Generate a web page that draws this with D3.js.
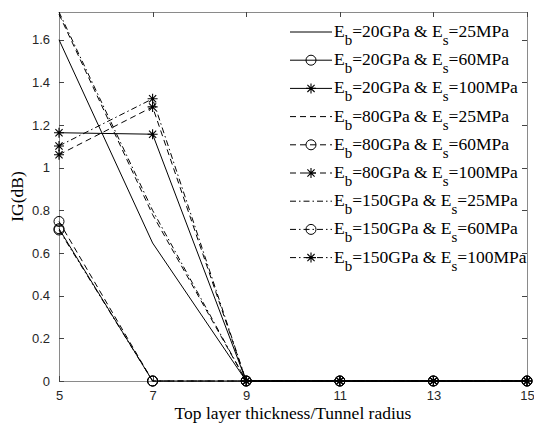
<!DOCTYPE html>
<html>
<head>
<meta charset="utf-8">
<script src="https://cdn.jsdelivr.net/npm/d3@7"></script>
<style>
  body { margin: 0; background: #fff; }
  svg { display: block; }
</style>
</head>
<body>
<svg id="chart"></svg>
<script>
const xValues = [5, 7, 9, 11, 13, 15];
const yTicks = [0, 0.2, 0.4, 0.6, 0.8, 1, 1.2, 1.4, 1.6];

const eb = ["20", "20", "20", "80", "80", "80", "150", "150", "150"];
const es = ["25", "60", "100", "25", "60", "100", "25", "60", "100"];
const styles = ["solid", "solid", "solid", "dash", "dash", "dash", "dashdot", "dashdot", "dashdot"];
const markers = ["none", "circle", "star", "none", "circle", "star", "none", "circle", "star"];

const s1 = [1.60, 0.647, 0, 0, 0, 0];
const s2 = [0.714, 0, 0, 0, 0, 0];
const s3 = [1.164, 1.157, 0, 0, 0, 0];
const s4 = [1.72, 0.78, 0, 0, 0, 0];
const s5 = [0.748, 0, 0, 0, 0, 0];
const s6 = [1.061, 1.285, 0, 0, 0, 0];
const s7 = [1.73, 0.80, 0, 0, 0, 0];
const s8 = [0.708, 0, 0, 0, 0, 0];
const s9 = [1.102, 1.323, 0, 0, 0, 0];
const seriesValues = [s1, s2, s3, s4, s5, s6, s7, s8, s9];

const W = 534, H = 428;
const margin = { top: 12, right: 7, bottom: 47, left: 59 };
const width = W - margin.left - margin.right;
const height = H - margin.top - margin.bottom;

const svg = d3.select("#chart").attr("width", W).attr("height", H);
const g = svg.append("g").attr("transform", `translate(${margin.left},${margin.top})`);

const x = d3.scaleLinear().domain([5, 15]).range([0, width]);
const y = d3.scaleLinear().domain([0, 1.73]).range([height, 0]);

const dashes = { solid: null, dash: "6,4", dashdot: "6,3,1.5,3" };
const axisColor = "#8a8a8a";
const tickFont = "Liberation Sans, Arial, sans-serif";
const serif = "Liberation Serif, Times New Roman, serif";

// box
g.append("rect").attr("width", width).attr("height", height)
  .attr("fill", "none").attr("stroke", axisColor).attr("stroke-width", 1)
  .attr("shape-rendering", "crispEdges");

function styleAxis(sel, showText) {
  sel.select(".domain").remove();
  sel.selectAll(".tick line").attr("stroke", "#444").attr("shape-rendering", "crispEdges");
  sel.selectAll(".tick text").attr("fill", "#262626")
    .style("font-family", tickFont).style("font-size", "13px");
  if (!showText) sel.selectAll(".tick text").remove();
}

g.append("g").attr("transform", `translate(0,${height})`)
  .call(d3.axisBottom(x).tickValues(xValues).tickSizeInner(-5).tickSizeOuter(0).tickPadding(10))
  .call(s => styleAxis(s, true));
g.append("g")
  .call(d3.axisTop(x).tickValues(xValues).tickSizeInner(-5).tickSizeOuter(0))
  .call(s => styleAxis(s, false));
g.append("g")
  .call(d3.axisLeft(y).tickValues(yTicks).tickFormat(d3.format("~g")).tickSizeInner(-5).tickSizeOuter(0).tickPadding(9))
  .call(s => styleAxis(s, true));
g.append("g").attr("transform", `translate(${width},0)`)
  .call(d3.axisRight(y).tickValues(yTicks).tickSizeInner(-5).tickSizeOuter(0))
  .call(s => styleAxis(s, false));

// lines
const line = d3.line().x(d => x(d.x)).y(d => y(d.y));

function drawMarker(sel, type, cx, cy) {
  if (type === "circle") {
    sel.append("circle").attr("cx", cx).attr("cy", cy).attr("r", 5)
      .attr("fill", "none").attr("stroke", "#000").attr("stroke-width", 1);
  } else if (type === "star") {
    const r = 5, d = 3.6;
    const p = `M${cx - r},${cy}L${cx + r},${cy}M${cx},${cy - r}L${cx},${cy + r}` +
      `M${cx - d},${cy - d}L${cx + d},${cy + d}M${cx - d},${cy + d}L${cx + d},${cy - d}`;
    sel.append("path").attr("d", p).attr("stroke", "#000").attr("stroke-width", 1.1).attr("fill", "none");
  }
}

seriesValues.forEach((vals, i) => {
  const pts = vals.map((v, j) => ({ x: xValues[j], y: v }));
  g.append("path").datum(pts).attr("d", line)
    .attr("fill", "none").attr("stroke", "#000").attr("stroke-width", 1)
    .attr("stroke-dasharray", dashes[styles[i]]);
  const mg = g.append("g");
  pts.forEach(p => drawMarker(mg, markers[i], x(p.x), y(p.y)));
});

// legend
const legend = svg.append("g");
const lx0 = 290, lx1 = 332, ly0 = 32, lstep = 28.2;
eb.forEach((b, i) => {
  const yy = ly0 + i * lstep;
  legend.append("line").attr("x1", lx0).attr("x2", lx1).attr("y1", yy).attr("y2", yy)
    .attr("stroke", "#000").attr("stroke-width", 1)
    .attr("stroke-dasharray", dashes[styles[i]]);
  drawMarker(legend, markers[i], (lx0 + lx1) / 2, yy);
  const t = legend.append("text").attr("x", lx1 + 2).attr("y", yy + 5)
    .style("font-family", serif).style("font-size", "17.5px").attr("fill", "#000");
  t.append("tspan").text("E");
  t.append("tspan").attr("dy", 8).style("font-size", "15px").text("b");
  t.append("tspan").attr("dy", -8).text(`=${b}GPa & E`);
  t.append("tspan").attr("dy", 8).style("font-size", "15px").text("s");
  t.append("tspan").attr("dy", -8).text(`=${es[i]}MPa`);
});

// axis labels
svg.append("text").attr("x", margin.left + width / 2).attr("y", 419)
  .attr("text-anchor", "middle").style("font-family", serif).style("font-size", "17.5px")
  .text("Top layer thickness/Tunnel radius");
svg.append("text").attr("transform", `translate(23,${margin.top + height / 2}) rotate(-90)`)
  .attr("text-anchor", "middle").style("font-family", serif).style("font-size", "17.5px")
  .text("IG(dB)");
</script>
</body>
</html>
